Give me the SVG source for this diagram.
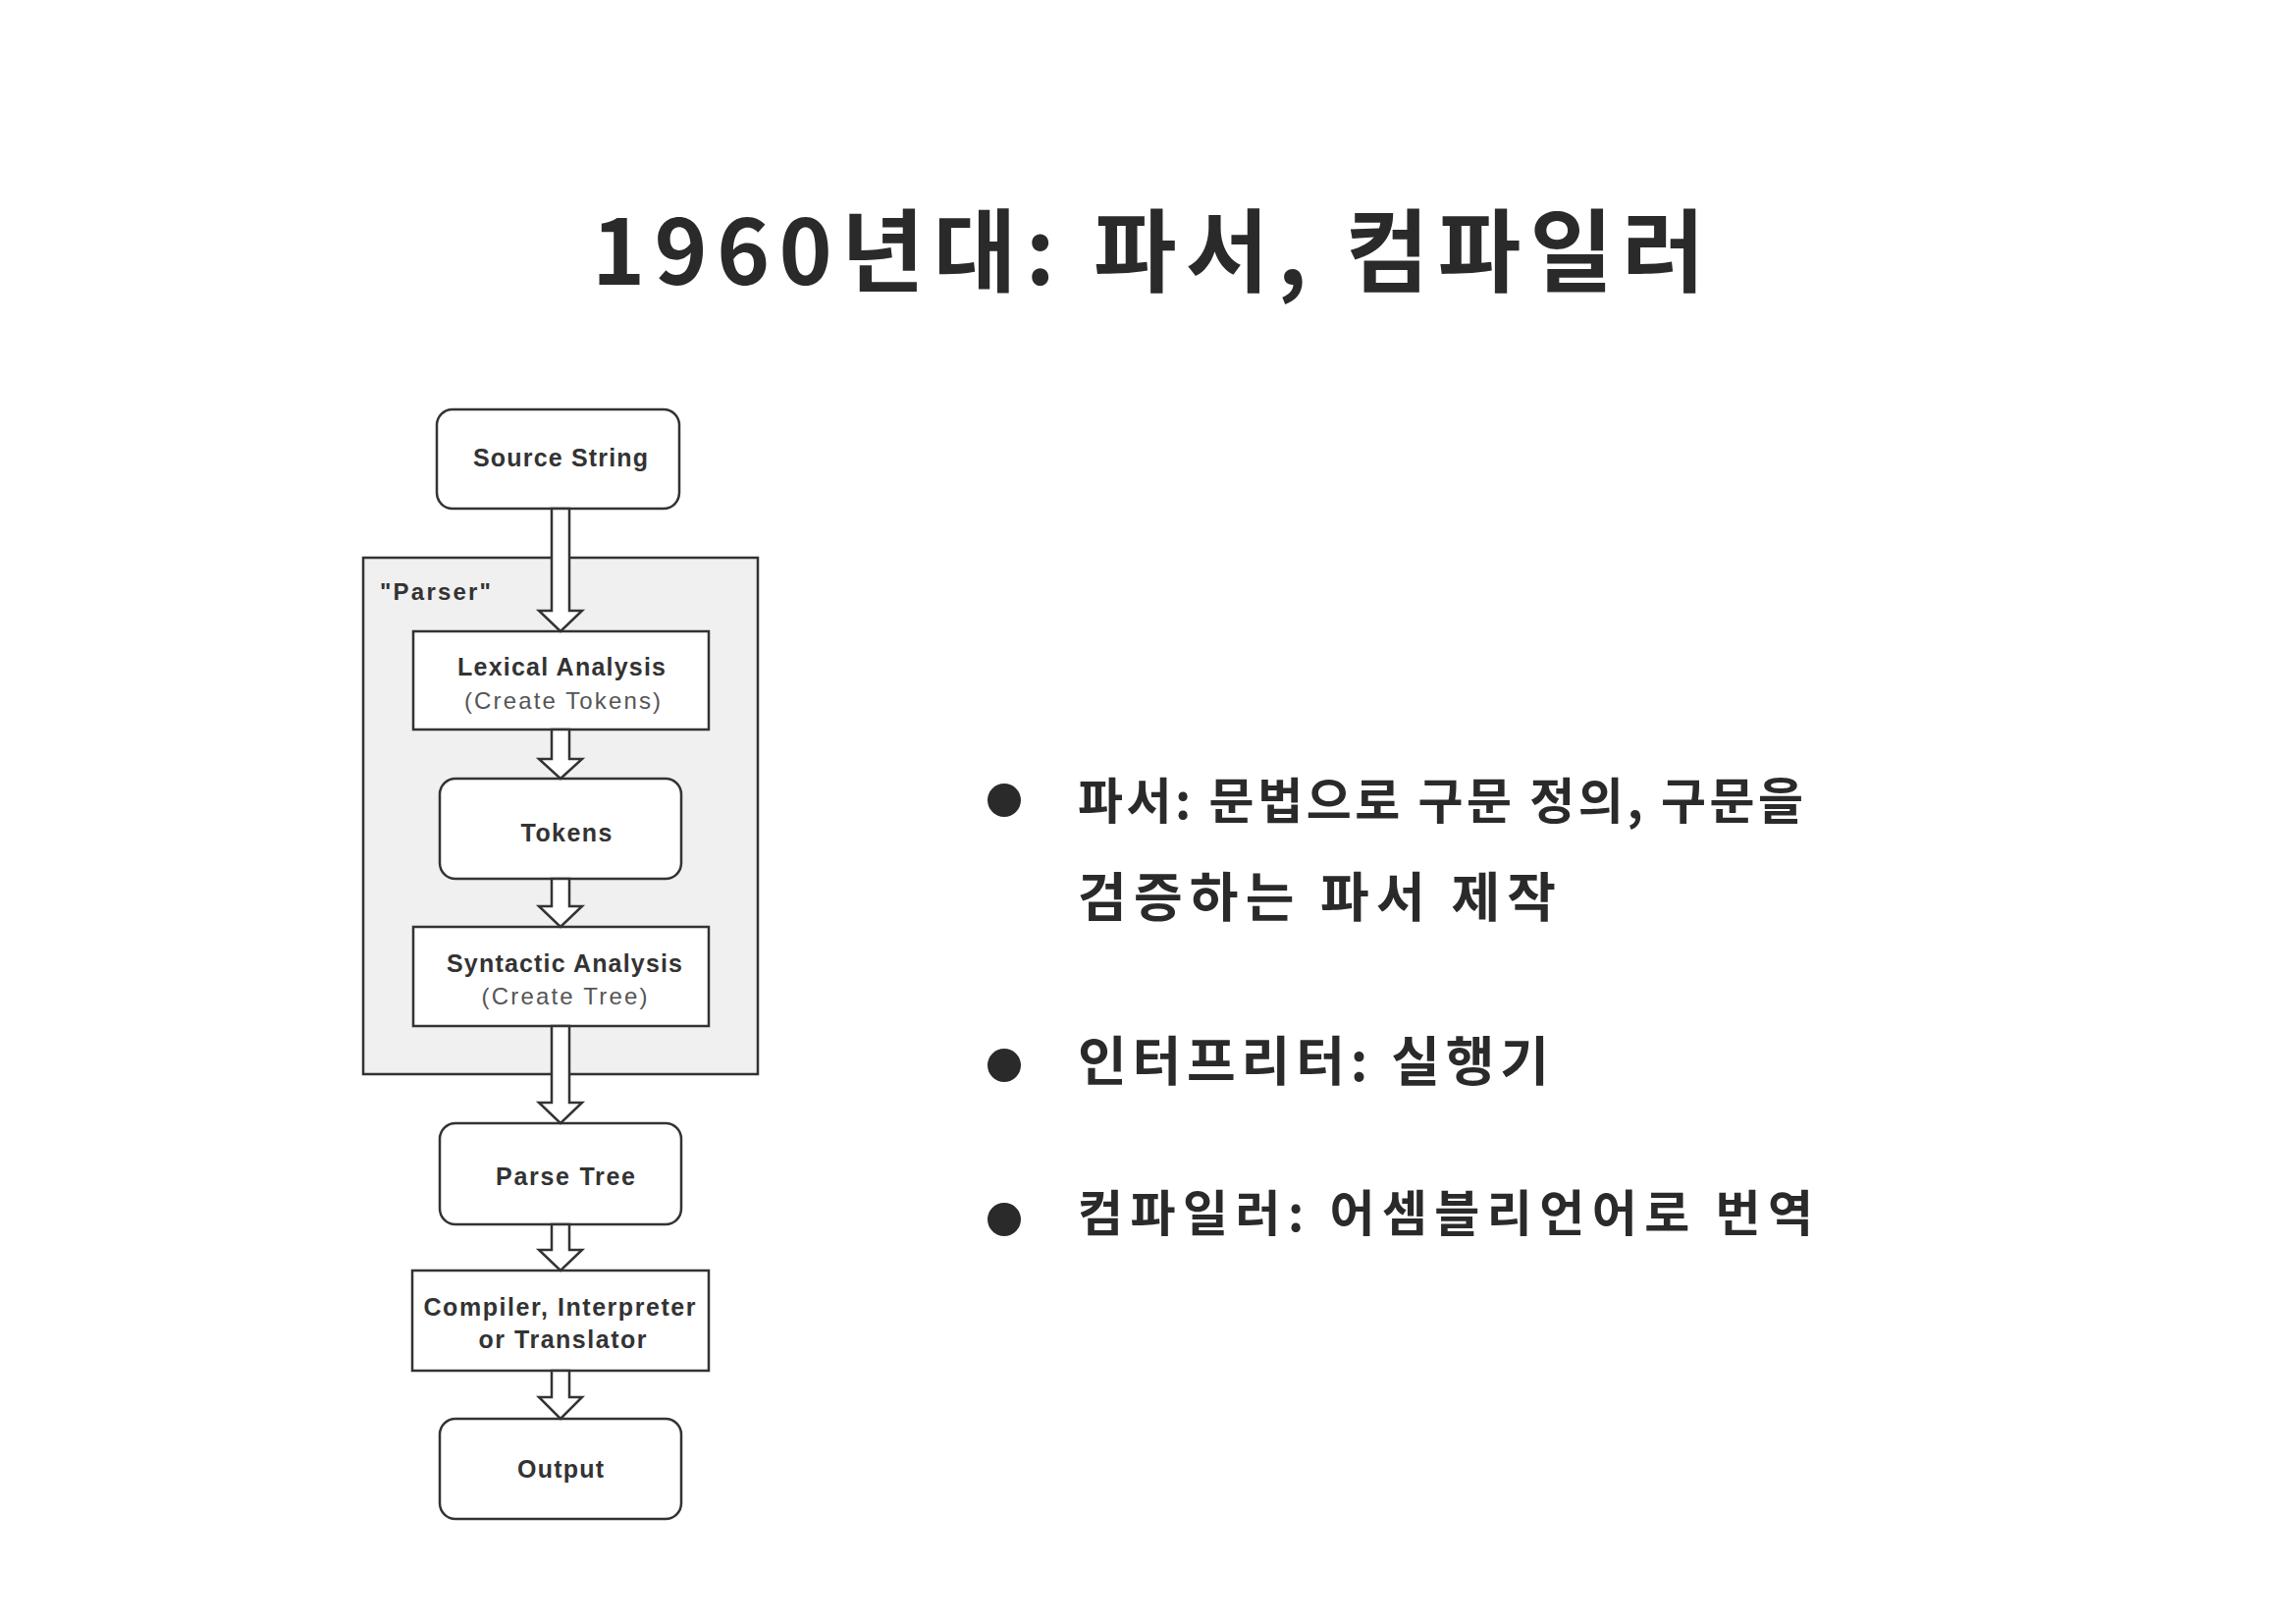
<svg xmlns="http://www.w3.org/2000/svg" width="2339" height="1653" viewBox="0 0 2339 1653">
<style>
.box{fill:#ffffff;stroke:#333333;stroke-width:2.5}
.container{fill:#f0f0f0;stroke:#333333;stroke-width:2.5}
.arrow{fill:#ffffff;stroke:#333333;stroke-width:2.5;stroke-linejoin:miter}
.lbl{font-family:"Liberation Sans",Arial,sans-serif;font-weight:bold;font-size:25px;fill:#333333;text-anchor:middle}
.sub{font-family:"Liberation Sans",Arial,sans-serif;font-weight:normal;font-size:24px;fill:#555555;text-anchor:middle}
.cap{font-family:"Liberation Sans",Arial,sans-serif;font-weight:bold;font-size:24px;fill:#333333}
.ko{font-family:"Noto Sans CJK KR","Noto Sans",sans-serif;font-weight:bold;fill:#2a2a2a}
.dot{fill:#2a2a2a}
</style>
<rect x="0" y="0" width="2339" height="1653" fill="#ffffff"/>

<g id="title">
<text class="ko" x="603" y="290" font-size="92" textLength="1134" lengthAdjust="spacing">1960년대: 파서, 컴파일러</text>
</g>

<g id="parser-container">
<rect class="container" x="370" y="568" width="402" height="526"/>
<text class="cap" x="387" y="611" textLength="113" lengthAdjust="spacing">"Parser"</text>
</g>

<g id="source-string">
<rect class="box" x="445" y="417" width="247" height="101" rx="16" ry="16"/>
<text class="lbl" x="571" y="475" textLength="178" lengthAdjust="spacing">Source String</text>
</g>

<g id="lexical-analysis">
<rect class="box" x="421" y="643" width="301" height="100"/>
<text class="lbl" x="572" y="688" textLength="212" lengthAdjust="spacing">Lexical Analysis</text>
<text class="sub" x="573" y="722" textLength="200" lengthAdjust="spacing">(Create Tokens)</text>
</g>

<g id="tokens">
<rect class="box" x="448" y="793" width="246" height="102" rx="16" ry="16"/>
<text class="lbl" x="577" y="857" textLength="93" lengthAdjust="spacing">Tokens</text>
</g>

<g id="syntactic-analysis">
<rect class="box" x="421" y="944" width="301" height="101"/>
<text class="lbl" x="575" y="990" textLength="240" lengthAdjust="spacing">Syntactic Analysis</text>
<text class="sub" x="575" y="1023" textLength="169" lengthAdjust="spacing">(Create Tree)</text>
</g>

<g id="parse-tree">
<rect class="box" x="448" y="1144" width="246" height="103" rx="16" ry="16"/>
<text class="lbl" x="576" y="1207" textLength="142" lengthAdjust="spacing">Parse Tree</text>
</g>

<g id="compiler">
<rect class="box" x="420" y="1294" width="302" height="102"/>
<text class="lbl" x="570" y="1340" textLength="277" lengthAdjust="spacing">Compiler, Interpreter</text>
<text class="lbl" x="573" y="1373" textLength="171" lengthAdjust="spacing">or Translator</text>
</g>

<g id="output">
<rect class="box" x="448" y="1445" width="246" height="102" rx="16" ry="16"/>
<text class="lbl" x="571" y="1505" textLength="88" lengthAdjust="spacing">Output</text>
</g>

<g id="connectors">
<path class="arrow" d="M562,518 L580,518 L580,622 L593,622 L571,643 L549,622 L562,622 Z"/>
<path class="arrow" d="M562,743 L580,743 L580,773 L593,773 L571,793 L549,773 L562,773 Z"/>
<path class="arrow" d="M562,895 L580,895 L580,923 L593,923 L571,944 L549,923 L562,923 Z"/>
<path class="arrow" d="M562,1045 L580,1045 L580,1123 L593,1123 L571,1144 L549,1123 L562,1123 Z"/>
<path class="arrow" d="M562,1247 L580,1247 L580,1273 L593,1273 L571,1294 L549,1273 L562,1273 Z"/>
<path class="arrow" d="M562,1396 L580,1396 L580,1423 L593,1423 L571,1445 L549,1423 L562,1423 Z"/>
</g>

<g id="bullets">
<circle class="dot" cx="1023" cy="815" r="17"/>
<text class="ko" x="1098" y="834" font-size="50" textLength="739" lengthAdjust="spacing">파서: 문법으로 구문 정의, 구문을</text>
<text class="ko" x="1098" y="934" font-size="54" textLength="487" lengthAdjust="spacing">검증하는 파서 제작</text>
<circle class="dot" cx="1023" cy="1085" r="17"/>
<text class="ko" x="1098" y="1101" font-size="54" textLength="480" lengthAdjust="spacing">인터프리터: 실행기</text>
<circle class="dot" cx="1023" cy="1242" r="17"/>
<text class="ko" x="1098" y="1254" font-size="50" textLength="749" lengthAdjust="spacing">컴파일러: 어셈블리언어로 번역</text>
</g>
</svg>
